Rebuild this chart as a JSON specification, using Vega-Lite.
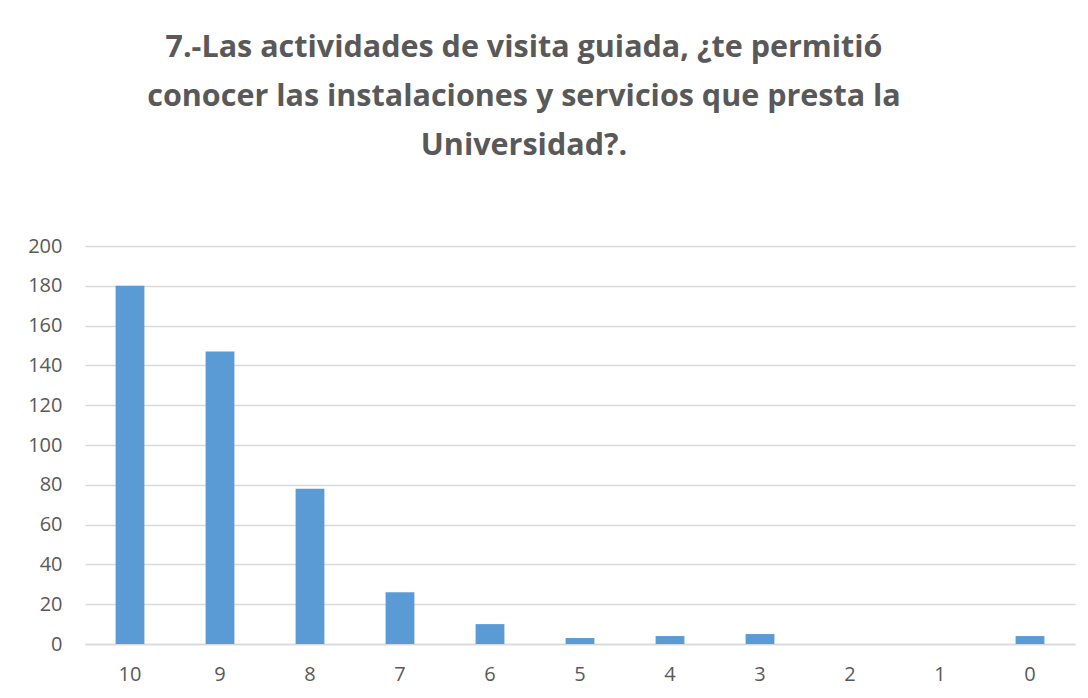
{
  "$schema": "https://vega.github.io/schema/vega-lite/v6.json",
  "autosize": "none",
  "width": 990,
  "height": 398,
  "padding": {"left": 85, "top": 246, "right": 13, "bottom": 54},
  "background": "white",
  "title": {
    "text": ["7.-Las actividades de visita guiada, ¿te permitió", "conocer las instalaciones y servicios que presta la", "Universidad?."],
    "font": "Open Sans",
    "fontSize": 30.5,
    "fontWeight": "bold",
    "color": "#595959",
    "lineHeight": 49,
    "anchor": "middle",
    "dx": -56,
    "offset": 75
  },
  "data": {
    "values": [
      {"score": "10", "count": 180},
      {"score": "9", "count": 147},
      {"score": "8", "count": 78},
      {"score": "7", "count": 26},
      {"score": "6", "count": 10},
      {"score": "5", "count": 3},
      {"score": "4", "count": 4},
      {"score": "3", "count": 5},
      {"score": "2", "count": 0},
      {"score": "1", "count": 0},
      {"score": "0", "count": 4}
    ]
  },
  "mark": {"type": "bar", "color": "#5b9bd5"},
  "encoding": {
    "x": {
      "field": "score",
      "type": "nominal",
      "sort": null,
      "scale": {"paddingInner": 0.68, "paddingOuter": 0.34},
      "axis": {
        "title": null,
        "labelAngle": 0,
        "labelFont": "Open Sans",
        "labelFontSize": 20,
        "labelColor": "#595959",
        "labelPadding": 20,
        "ticks": false,
        "domainColor": "#d9d9d9",
        "domainWidth": 1.5
      }
    },
    "y": {
      "field": "count",
      "type": "quantitative",
      "scale": {"domain": [0, 200]},
      "axis": {
        "title": null,
        "values": [0, 20, 40, 60, 80, 100, 120, 140, 160, 180, 200],
        "labelFont": "Open Sans",
        "labelFontSize": 20,
        "labelColor": "#595959",
        "labelPadding": 23,
        "ticks": false,
        "domain": false,
        "gridColor": "#d9d9d9",
        "gridWidth": 1.5
      }
    }
  },
  "config": {"view": {"stroke": null}}
}
